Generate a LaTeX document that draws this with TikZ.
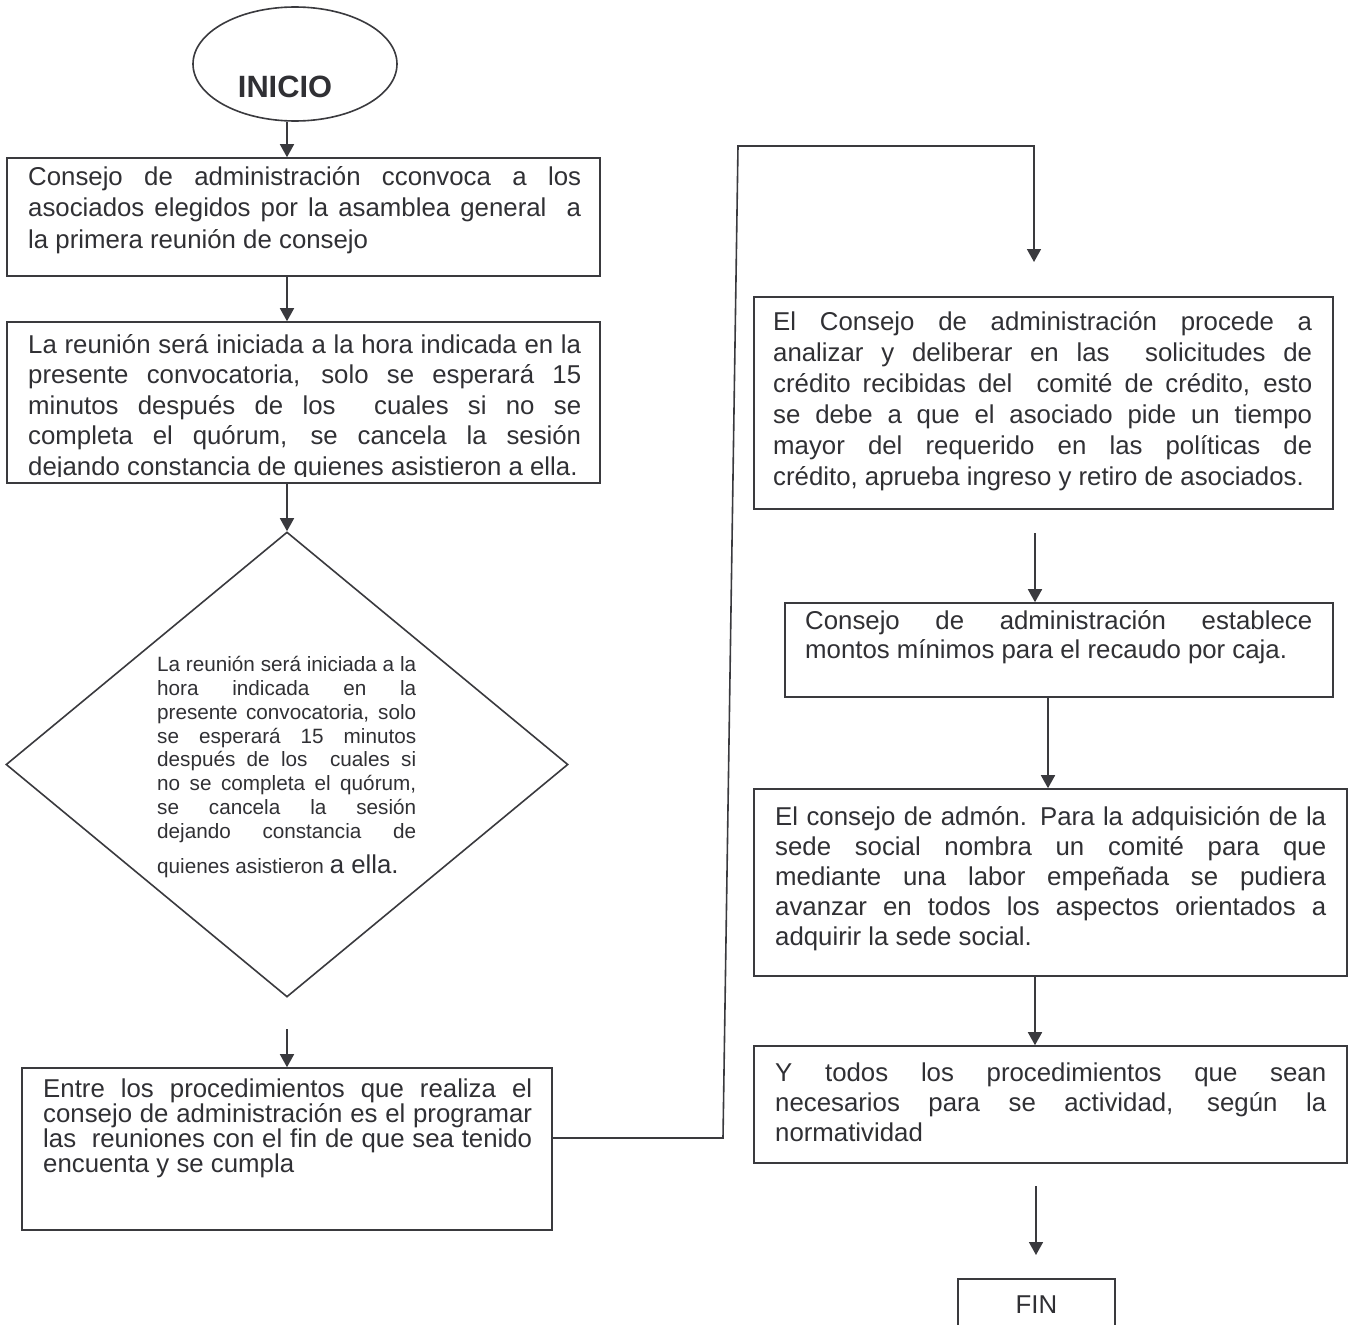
\documentclass[tikz,border=0pt]{standalone}
\usepackage{fontspec}
\setmainfont{Liberation Sans}
\usetikzlibrary{shapes.geometric,arrows.meta}
\definecolor{ink}{RGB}{58,58,62}
\definecolor{txt}{RGB}{48,48,52}
% natural font word spacing inside node text
\newcommand\ns{\spaceskip=0pt\xspaceskip=0pt\relax}
% one fully justified line of a text block
\newcommand\jl[1]{\makebox[\hsize][s]{\ns#1}\\}

\begin{document}
\begin{tikzpicture}[x=1pt,y=-1pt,
  line/.style={draw=ink,line width=1.6pt},
  box/.style={line,rectangle,inner sep=0pt},
  body/.style={text=txt,inner sep=0pt,anchor=base west,align=left},
  arr/.style={line,-{Triangle[length=13pt,width=14pt]}}]

\useasboundingbox (0,0) rectangle (1353,1325);
\fill[white] (0,0) rectangle (1353,1325);

% column guides
\coordinate (colL) at (287,0);
\coordinate (colB) at (1048,0);
\coordinate (colC) at (1035,0);

% ---------- left column ----------
\node[line,ellipse,minimum width=204pt,minimum height=114pt,inner sep=0pt] (inicio) at (295,64) {};
\node[text=txt,inner sep=0pt,anchor=base,font=\fontsize{30.8}{36}\selectfont\bfseries] (tini) at (285,97) {INICIO};

\node[box,minimum width=593pt,minimum height=118pt] (b1) at (303.5,217) {};
\node[body,text width=553pt,font=\fontsize{25.8}{31.5}\selectfont] (t1) at (28,185)
 {\ns\jl{Consejo de administración cconvoca a los}\jl{asociados elegidos por la asamblea general\ \ a}la primera reunión de consejo};

\node[box,minimum width=593pt,minimum height=161pt] (b2) at (303.5,402.5) {};
\begin{scope}
\clip (0,300) rectangle (620,476);
\node[body,text width=553pt,font=\fontsize{25.8}{30.5}\selectfont] (t2) at (28,353)
 {\ns\jl{La reunión será iniciada a la hora indicada en la}\jl{presente convocatoria, solo se esperará 15}\jl{minutos después de los\ \ cuales si no se}\jl{completa el quórum, se cancela la sesión}dejando constancia de quienes asistieron a ella.};
\end{scope}

\node[line,diamond,minimum width=562pt,minimum height=465pt,inner sep=0pt] (dia) at (287,764.5) {};
\node[body,text width=259pt,font=\fontsize{20.7}{23.8}\selectfont] (tdia) at (157,671.7)
 {\ns\jl{La reunión será iniciada a la}\jl{hora indicada en la}\jl{presente convocatoria, solo}\jl{se esperará 15 minutos}\jl{después de los\ \ cuales si}\jl{no se completa el quórum,}\jl{se cancela la sesión}\makebox[\hsize][s]{\ns dejando constancia de}\\[10.9pt]quienes asistieron {\fontsize{25.8}{23.8}\selectfont a ella.}};

\node[box,minimum width=530pt,minimum height=162pt] (b5) at (287,1149) {};
\node[body,text width=489pt,font=\fontsize{25.8}{25}\selectfont] (t5) at (43,1097)
 {\ns\jl{Entre los procedimientos que realiza el}\jl{consejo de administración es el programar}\jl{las\ \ reuniones con el fin de que sea tenido}encuenta y se cumpla};

% ---------- right column ----------
\node[box,minimum width=579pt,minimum height=212pt] (bA) at (1043.5,403) {};
\node[body,text width=539pt,font=\fontsize{25.8}{31}\selectfont] (tA) at (773,330)
 {\ns\jl{El Consejo de administración procede a}\jl{analizar y deliberar en las\ \ solicitudes de}\jl{crédito recibidas del\ \ comité de crédito, esto}\jl{se debe a que el asociado pide un tiempo}\jl{mayor del requerido en las políticas de}crédito, aprueba ingreso y retiro de asociados.};

\node[box,minimum width=548pt,minimum height=94pt] (bB) at (1059,650) {};
\node[body,text width=507pt,font=\fontsize{25.8}{29.5}\selectfont] (tB) at (805,629)
 {\ns\jl{Consejo de administración establece}montos mínimos para el recaudo por caja.};

\node[box,minimum width=593pt,minimum height=187pt] (bC) at (1050.5,882.5) {};
\node[body,text width=551pt,font=\fontsize{25.8}{30}\selectfont] (tC) at (775,825)
 {\ns\jl{El consejo de admón. Para la adquisición de la}\jl{sede social nombra un comité para que}\jl{mediante una labor empeñada se pudiera}\jl{avanzar en todos los aspectos orientados a}adquirir la sede social.};

\node[box,minimum width=593pt,minimum height=117pt] (bD) at (1050.5,1104.5) {};
\node[body,text width=551pt,font=\fontsize{25.8}{30}\selectfont] (tD) at (775,1081)
 {\ns\jl{Y todos los procedimientos que sean}\jl{necesarios para se actividad, según la}normatividad};

\node[box,minimum width=157pt,minimum height=66pt] (fin) at (1036.5,1312) {};
\node[text=txt,inner sep=0pt,anchor=base,font=\fontsize{25.8}{30}\selectfont] (tfin) at (1036.5,1313) {FIN};

% ---------- connectors ----------
\draw[arr] (inicio.south -| colL) -- (b1.north -| colL);
\draw[arr] (b1.south -| colL) -- (b2.north -| colL);
\draw[arr] (b2.south -| colL) -- (dia.north);
\coordinate (d0) at (287,1029);
\draw[arr] (d0) -- (b5.north);

\coordinate (k1) at (723,1138);
\coordinate (k2) at (738,146);
\coordinate (k3) at (1034,146);
\coordinate (k4) at (1034,262);
\draw[arr] (b5.east |- k1) -- (k1) -- (k2) -- (k3) -- (k4);

\coordinate (a0) at (1035,533);
\draw[arr] (a0) -- (bB.north -| a0);
\draw[arr] (bB.south -| colB) -- (bC.north -| colB);
\draw[arr] (bC.south -| colC) -- (bD.north -| colC);
\coordinate (f0) at (1036,1186);
\coordinate (f1) at (1036,1255);
\draw[arr] (f0) -- (f1);

\end{tikzpicture}
\end{document}
